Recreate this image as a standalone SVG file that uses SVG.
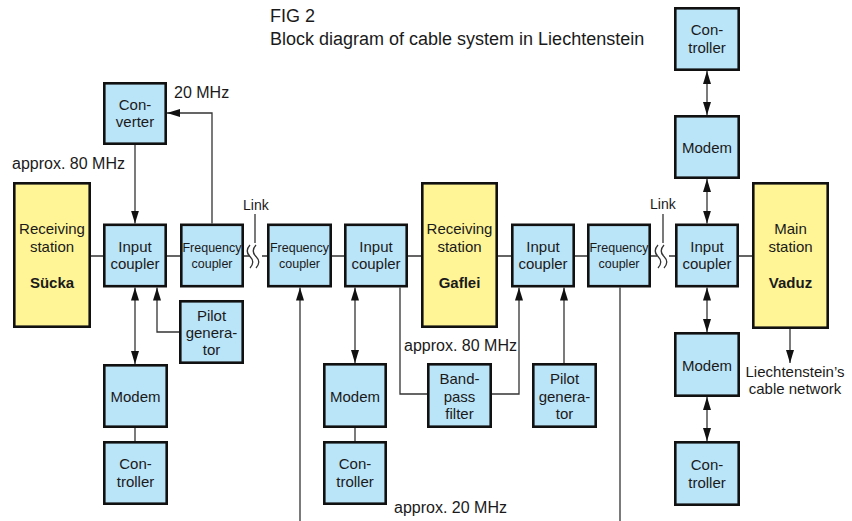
<svg xmlns="http://www.w3.org/2000/svg" width="852" height="521" viewBox="0 0 852 521">
<style>
  .b{fill:#bae4f8;stroke:#111;stroke-width:2.6}
  .y{fill:#fff596;stroke:#111;stroke-width:2.6}
  .t{font-family:"Liberation Sans",Arial,sans-serif;font-size:15px;fill:#1a1a1a;text-anchor:middle}
  .f{font-family:"Liberation Sans",Arial,sans-serif;font-size:12.5px;fill:#1a1a1a;text-anchor:middle}
  .bold{font-weight:bold}
  .l{font-family:"Liberation Sans",Arial,sans-serif;font-size:16px;fill:#1a1a1a}
  .k{font-family:"Liberation Sans",Arial,sans-serif;font-size:14px;fill:#1a1a1a}
  .ti{font-family:"Liberation Sans",Arial,sans-serif;font-size:18px;fill:#1a1a1a}
  .c{fill:none;stroke:#333;stroke-width:1.3}
</style>
<defs>
  <marker id="ah" markerUnits="userSpaceOnUse" markerWidth="13" markerHeight="8" refX="13" refY="4" orient="auto-start-reverse">
    <path d="M0,0 L13,4 L0,8 z" fill="#111"/>
  </marker>
</defs>
<rect width="852" height="521" fill="#fff"/>
<g id="title">
  <text class="ti" x="270" y="22">FIG 2</text>
  <text class="ti" x="270" y="45">Block diagram of cable system in Liechtenstein</text>
</g>
<g id="connectors">
  <path class="c" d="M91,256 H103 M167,256 H180 M244,256 H250 M262,256 H267 M332,256 H344 M408,256 H421 M498,256 H511 M575,256 H587 M651,256 H657 M669,256 H675 M739,256 H752"/>
  <path class="c" d="M250,245 Q244.5,251 250,256.5 Q255.5,262 250,268 M256,245 Q250.5,251 256,256.5 Q261.5,262 256,268"/>
  <path class="c" d="M658,245 Q652.5,251 658,256.5 Q663.5,262 658,268 M664,245 Q658.5,251 664,256.5 Q669.5,262 664,268"/>
  <path class="c" d="M255,214 V243 M663,214 V243"/>
  <path class="c" d="M135,145 V223.5" marker-end="url(#ah)"/>
  <path class="c" d="M212,223.5 V113 H167" marker-end="url(#ah)"/>
  <path class="c" d="M135,287.5 V364" marker-start="url(#ah)" marker-end="url(#ah)"/>
  <path class="c" d="M179,332 H157 V287.5" marker-end="url(#ah)"/>
  <path class="c" d="M135,428 V441"/>
  <path class="c" d="M300,521 V287.5" marker-end="url(#ah)"/>
  <path class="c" d="M355,287.5 V363" marker-start="url(#ah)" marker-end="url(#ah)"/>
  <path class="c" d="M355,428 V441"/>
  <path class="c" d="M400,287.5 V394 H427"/>
  <path class="c" d="M492,394 H519 V287.5" marker-end="url(#ah)"/>
  <path class="c" d="M564,363 V287.5" marker-end="url(#ah)"/>
  <path class="c" d="M620,287.5 V521"/>
  <path class="c" d="M707,71 V115" marker-start="url(#ah)" marker-end="url(#ah)"/>
  <path class="c" d="M707,179 V223.5" marker-start="url(#ah)" marker-end="url(#ah)"/>
  <path class="c" d="M707,287.5 V332" marker-start="url(#ah)" marker-end="url(#ah)"/>
  <path class="c" d="M707,397 V441" marker-start="url(#ah)" marker-end="url(#ah)"/>
  <path class="c" d="M790,329 V363" marker-end="url(#ah)"/>
</g>
<g id="labels">
  <text class="l" x="174" y="98">20 MHz</text>
  <text class="l" x="12" y="169">approx. 80 MHz</text>
  <text class="k" x="243" y="210">Link</text>
  <text class="k" x="650" y="209">Link</text>
  <text class="l" x="404" y="351">approx. 80 MHz</text>
  <text class="l" x="394" y="513">approx. 20 MHz</text>
  <text class="t" x="795" y="377">Liechtenstein’s</text>
  <text class="t" x="795" y="394">cable network</text>
</g>
<g id="sucka">
  <rect class="y" x="14.3" y="183.3" width="75.4" height="143.4"/>
  <text class="t" x="52" y="234">Receiving</text>
  <text class="t" x="52" y="252">station</text>
  <text class="t bold" x="52" y="288">Sücka</text>
</g>
<g id="converter">
  <rect class="b" x="104.3" y="83.3" width="61.4" height="60.4"/>
  <text class="t" x="135" y="110">Con-</text>
  <text class="t" x="135" y="127">verter</text>
</g>
<g id="input1">
  <rect class="b" x="104.3" y="224.8" width="61.4" height="61.4"/>
  <text class="t" x="135" y="251.5">Input</text>
  <text class="t" x="135" y="268.5">coupler</text>
</g>
<g id="freq1">
  <rect class="b" x="181.3" y="224.8" width="61.4" height="61.4"/>
  <text class="f" x="212" y="251.5">Frequency</text>
  <text class="f" x="212" y="267.5">coupler</text>
</g>
<g id="pilot1">
  <rect class="b" x="180.3" y="301.3" width="62.4" height="61.4"/>
  <text class="t" x="211.5" y="321">Pilot</text>
  <text class="t" x="211.5" y="338">genera-</text>
  <text class="t" x="211.5" y="355">tor</text>
</g>
<g id="modem1">
  <rect class="b" x="104.3" y="365.3" width="62.4" height="61.4"/>
  <text class="t" x="135.5" y="402">Modem</text>
</g>
<g id="controller1">
  <rect class="b" x="104.3" y="442.3" width="62.4" height="61.4"/>
  <text class="t" x="135.5" y="469">Con-</text>
  <text class="t" x="135.5" y="487">troller</text>
</g>
<g id="freq2">
  <rect class="b" x="268.3" y="224.8" width="62.4" height="61.4"/>
  <text class="f" x="299.5" y="251.5">Frequency</text>
  <text class="f" x="299.5" y="267.5">coupler</text>
</g>
<g id="input2">
  <rect class="b" x="345.3" y="224.8" width="61.4" height="61.4"/>
  <text class="t" x="376" y="251.5">Input</text>
  <text class="t" x="376" y="268.5">coupler</text>
</g>
<g id="modem2">
  <rect class="b" x="324.3" y="364.3" width="61.4" height="62.4"/>
  <text class="t" x="355" y="401.5">Modem</text>
</g>
<g id="controller2">
  <rect class="b" x="324.3" y="442.3" width="61.4" height="61.4"/>
  <text class="t" x="355" y="469">Con-</text>
  <text class="t" x="355" y="487">troller</text>
</g>
<g id="gaflei">
  <rect class="y" x="422.3" y="183.3" width="74.4" height="143.4"/>
  <text class="t" x="459.5" y="234">Receiving</text>
  <text class="t" x="459.5" y="252">station</text>
  <text class="t bold" x="459.5" y="288">Gaflei</text>
</g>
<g id="bandpass">
  <rect class="b" x="428.3" y="364.3" width="62.4" height="62.4"/>
  <text class="t" x="459.5" y="384">Band-</text>
  <text class="t" x="459.5" y="401.5">pass</text>
  <text class="t" x="459.5" y="419">filter</text>
</g>
<g id="input3">
  <rect class="b" x="512.3" y="224.8" width="61.4" height="61.4"/>
  <text class="t" x="543" y="251.5">Input</text>
  <text class="t" x="543" y="268.5">coupler</text>
</g>
<g id="pilot2">
  <rect class="b" x="533.3" y="364.3" width="62.4" height="62.4"/>
  <text class="t" x="564.5" y="384">Pilot</text>
  <text class="t" x="564.5" y="401.5">genera-</text>
  <text class="t" x="564.5" y="419">tor</text>
</g>
<g id="freq3">
  <rect class="b" x="588.3" y="224.8" width="61.4" height="61.4"/>
  <text class="f" x="619" y="251.5">Frequency</text>
  <text class="f" x="619" y="267.5">coupler</text>
</g>
<g id="controllerTop">
  <rect class="b" x="675.3" y="8.3" width="63.4" height="61.4"/>
  <text class="t" x="707" y="35">Con-</text>
  <text class="t" x="707" y="53">troller</text>
</g>
<g id="modemTop">
  <rect class="b" x="675.3" y="116.3" width="63.4" height="61.4"/>
  <text class="t" x="707" y="153">Modem</text>
</g>
<g id="input4">
  <rect class="b" x="676.3" y="224.8" width="61.4" height="61.4"/>
  <text class="t" x="707" y="251.5">Input</text>
  <text class="t" x="707" y="268.5">coupler</text>
</g>
<g id="modemR">
  <rect class="b" x="675.3" y="333.3" width="63.4" height="62.4"/>
  <text class="t" x="707" y="370.5">Modem</text>
</g>
<g id="controllerR">
  <rect class="b" x="675.3" y="442.3" width="63.4" height="62.4"/>
  <text class="t" x="707" y="469.5">Con-</text>
  <text class="t" x="707" y="487.5">troller</text>
</g>
<g id="vaduz">
  <rect class="y" x="753.3" y="183.3" width="74.4" height="144.4"/>
  <text class="t" x="790.5" y="234">Main</text>
  <text class="t" x="790.5" y="252">station</text>
  <text class="t bold" x="790.5" y="288">Vaduz</text>
</g>
</svg>
